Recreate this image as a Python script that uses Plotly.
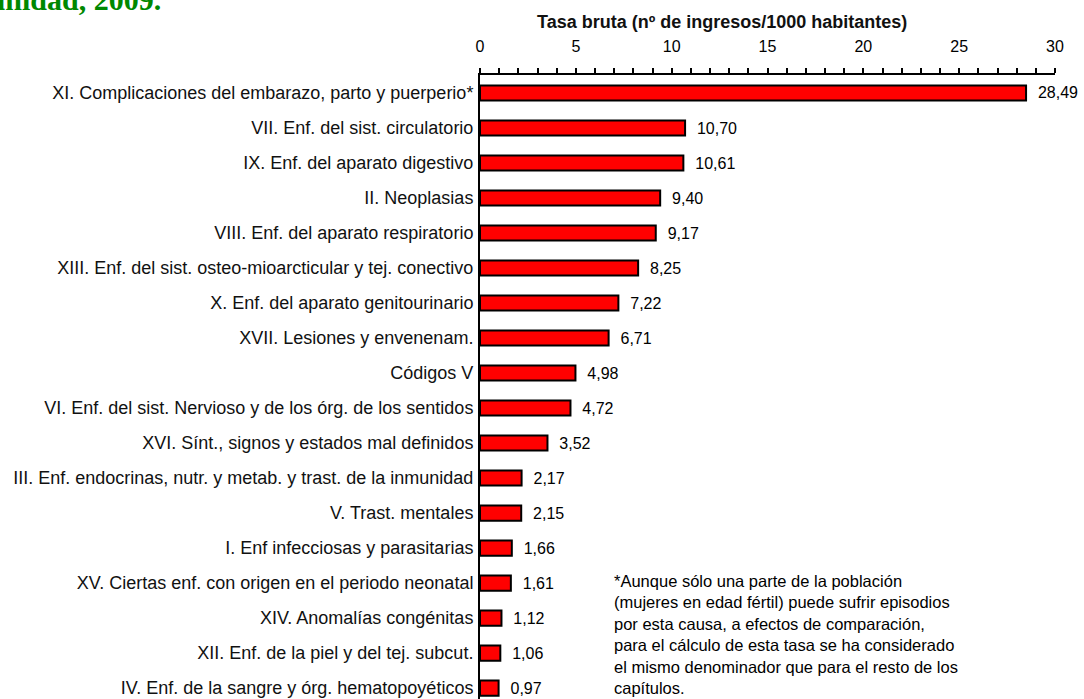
import plotly.graph_objects as go

categories = [
    "XI. Complicaciones del embarazo, parto y puerperio*",
    "VII. Enf. del sist. circulatorio",
    "IX. Enf. del aparato digestivo",
    "II. Neoplasias",
    "VIII. Enf. del aparato respiratorio",
    "XIII. Enf. del sist. osteo-mioarcticular y tej. conectivo",
    "X. Enf. del aparato genitourinario",
    "XVII. Lesiones y envenenam.",
    "Códigos V",
    "VI. Enf. del sist. Nervioso y de los órg. de los sentidos",
    "XVI. Sínt., signos y estados mal definidos",
    "III. Enf. endocrinas, nutr. y metab. y trast. de la inmunidad",
    "V. Trast. mentales",
    "I. Enf infecciosas y parasitarias",
    "XV. Ciertas enf. con origen en el periodo neonatal",
    "XIV. Anomalías congénitas",
    "XII. Enf. de la piel y del tej. subcut.",
    "IV. Enf. de la sangre y órg. hematopoyéticos",
]
values = [28.49, 10.70, 10.61, 9.40, 9.17, 8.25, 7.22, 6.71, 4.98, 4.72,
          3.52, 2.17, 2.15, 1.66, 1.61, 1.12, 1.06, 0.97]
x_ticks = [0, 5, 10, 15, 20, 25, 30]
axis_title = "Tasa bruta (nº de ingresos/1000 habitantes)"
title_text = "Comunidad, 2009."
note_lines = [
    "*Aunque sólo una parte de la población",
    "(mujeres en edad fértil) puede sufrir episodios",
    "por esta causa, a efectos de comparación,",
    "para el cálculo de esta tasa se ha considerado",
    "el mismo denominador que para el resto de los",
    "capítulos.",
]

labels = ["  " + f"{v:.2f}".replace(".", ",") for v in values]
FONT = "Liberation Sans, Arial, sans-serif"

W, H = 1084, 699
L, R, T, B = 480, 29, 75, 0
pw, ph = W - L - R, H - T - B


def px_x(p):
    return (p - L) / pw


def px_y(p):
    return (H - B - p) / ph


fig = go.Figure()
fig.add_trace(go.Bar(
    x=values, y=categories, orientation="h",
    marker=dict(color="#FF0000", line=dict(color="black", width=2)),
    width=0.43,
    text=labels, textposition="outside", constraintext="none",
    textfont=dict(family=FONT, size=16, color="black"),
    cliponaxis=False, hoverinfo="skip",
))

fig.update_layout(
    width=W, height=H,
    margin=dict(l=L, r=R, t=T, b=B, pad=0, autoexpand=False),
    plot_bgcolor="white", paper_bgcolor="white",
    showlegend=False,
    font=dict(family=FONT, color="black"),
)
fig.update_xaxes(
    side="top", range=[0, 30], tickvals=x_ticks, automargin=False,
    ticks="outside", ticklen=5, tickwidth=1.5, tickcolor="black",
    minor=dict(dtick=1, ticks="outside", ticklen=5, tickwidth=1.5, tickcolor="black"),
    showline=True, linecolor="black", linewidth=2,
    showgrid=False, zeroline=False,
    tickfont=dict(family=FONT, size=16, color="black"),
    ticklabelstandoff=10,
)
fig.update_yaxes(
    range=[17.31, -0.514], automargin=False,
    showline=True, linecolor="black", linewidth=2,
    showgrid=False, zeroline=False, ticks="",
    tickfont=dict(family=FONT, size=18, color="#111111"),
    ticklabelstandoff=1,
)

fig.add_annotation(
    text=f"<b>{axis_title}</b>", xref="paper", yref="paper",
    x=px_x(722), y=px_y(22), xanchor="center", yanchor="middle",
    showarrow=False, font=dict(family=FONT, size=18, color="#111111"),
)
fig.add_annotation(
    text=f"<b>{title_text}</b>", xref="paper", yref="paper",
    x=px_x(163), y=px_y(18), xanchor="right", yanchor="bottom",
    showarrow=False, font=dict(family="Liberation Serif, Times New Roman, serif", size=30, color="#008800"),
)
fig.add_annotation(
    text="<br>".join(note_lines), xref="paper", yref="paper",
    x=px_x(612), y=px_y(570), xanchor="left", yanchor="top", align="left",
    showarrow=False, font=dict(family=FONT, size=16.5, color="black"),
)

fig.write_html(
    "out.html",
    config={"displayModeBar": False},
    post_script="document.body.style.margin='0';",
)
